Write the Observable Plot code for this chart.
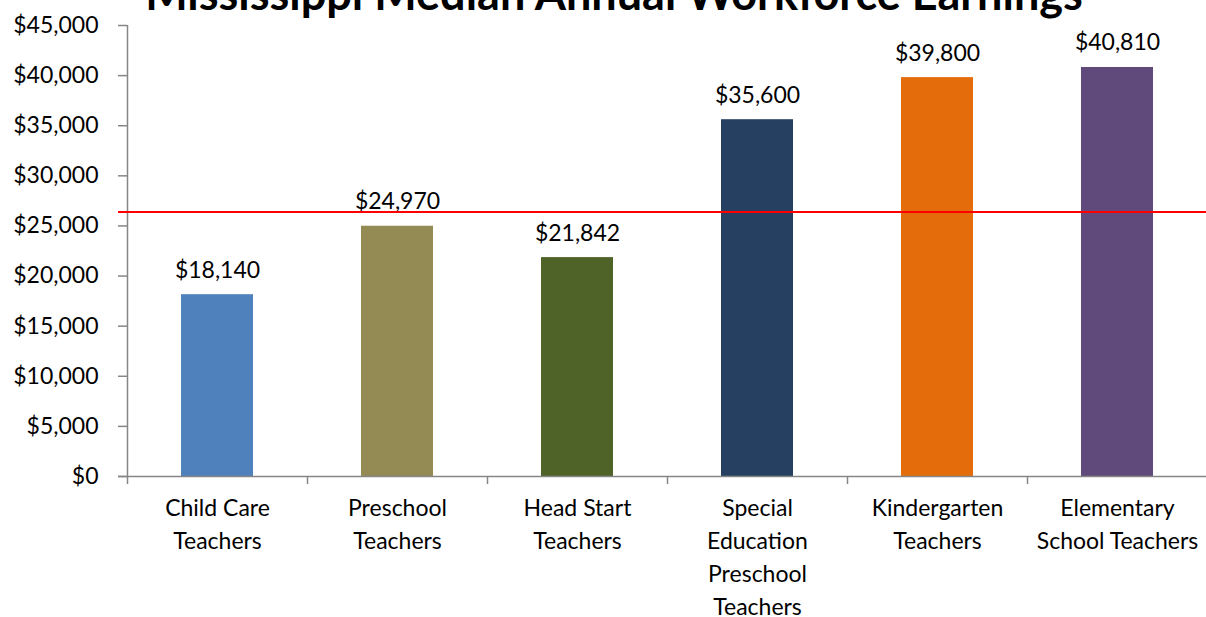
<!DOCTYPE html>
<html>
<head>
<meta charset="utf-8">
<script src="https://cdn.jsdelivr.net/npm/d3@7"></script>
<script src="https://cdn.jsdelivr.net/npm/@observablehq/plot@0.6"></script>
<style>
  html, body { margin: 0; padding: 0; background: #fff; overflow: hidden; }
  #wrap { position: relative; width: 1206px; height: 617px; }
  #title { position: absolute; left: 0; width: 1228px; text-align: center; top: -29px;
    font-family: Lato, sans-serif; font-weight: 700; font-size: 45px; color: #000; white-space: nowrap; margin: 0; line-height: 1; }
</style>
</head>
<body>
<div id="wrap">
  <div id="chart"></div>
  <h1 id="title">Mississippi Median Annual Workforce Earnings</h1>
</div>
<script>
const title = "Mississippi Median Annual Workforce Earnings";
const categories = ["Child Care\nTeachers", "Preschool\nTeachers", "Head Start\nTeachers",
  "Special\nEducation\nPreschool\nTeachers", "Kindergarten\nTeachers", "Elementary\nSchool Teachers"];
const earnings = [18140, 24970, 21842, 35600, 39800, 40810];
const colors = ["#4F81BD", "#948A54", "#4F6228", "#254061", "#E46C0A", "#604A7B"];
const referenceLine = [26400];
const yTicks = [0, 5000, 10000, 15000, 20000, 25000, 30000, 35000, 40000, 45000];

const data = categories.map((c, i) => ({category: c, value: earnings[i], color: colors[i]}));
const fmt = d => "$" + d3.format(",")(d);

const W = 1206, H = 617, ML = 127, MR = -1, MT = 25, MB = 141;
const step = (W - ML - MR) / categories.length;
const font = "Lato, sans-serif";
const axisGray = "#868686";

const chart = Plot.plot({
  width: W, height: H,
  marginLeft: ML, marginRight: MR, marginTop: MT, marginBottom: MB,
  style: {fontFamily: font, fontSize: "23px", color: "#000", background: "#fff"},
  x: {domain: categories, paddingInner: 0.6, paddingOuter: 0.3, axis: null},
  y: {domain: [0, 45000], axis: null},
  marks: [
    Plot.barY(data, {x: "category", y: "value", fill: "color"}),
    // y axis
    Plot.ruleX([categories[0]], {x: d => d, y1: 0, y2: 45000, dx: -step / 2, stroke: axisGray, strokeWidth: 1.5}),
    Plot.axisY({ticks: yTicks, tickFormat: fmt, label: null, tickSize: 9, tickPadding: 20, stroke: axisGray, strokeWidth: 1.5, fill: "#000", fontSize: 23, fontFamily: font}),
    // x axis
    Plot.ruleY([0], {stroke: axisGray, strokeWidth: 1.5, insetLeft: -9}),
    Plot.ruleX(categories, {x: d => d, y1: 0, y2: 0, insetBottom: -8, dx: -step / 2, stroke: axisGray, strokeWidth: 1.5}),
    Plot.text(categories, {x: d => d, frameAnchor: "bottom", lineAnchor: "top", dy: 16, lineHeight: 1.43, fontSize: 23, fill: "#000"}),
    // value labels
    Plot.text(data, {x: "category", y: "value", text: d => fmt(d.value), lineAnchor: "bottom", dy: -17, fontSize: 23, fill: "#000"}),
    // reference line
    Plot.ruleY(referenceLine, {stroke: "#FF0000", strokeWidth: 2, insetLeft: -9})
  ]
});
document.getElementById("chart").appendChild(chart);
</script>
</body>
</html>
